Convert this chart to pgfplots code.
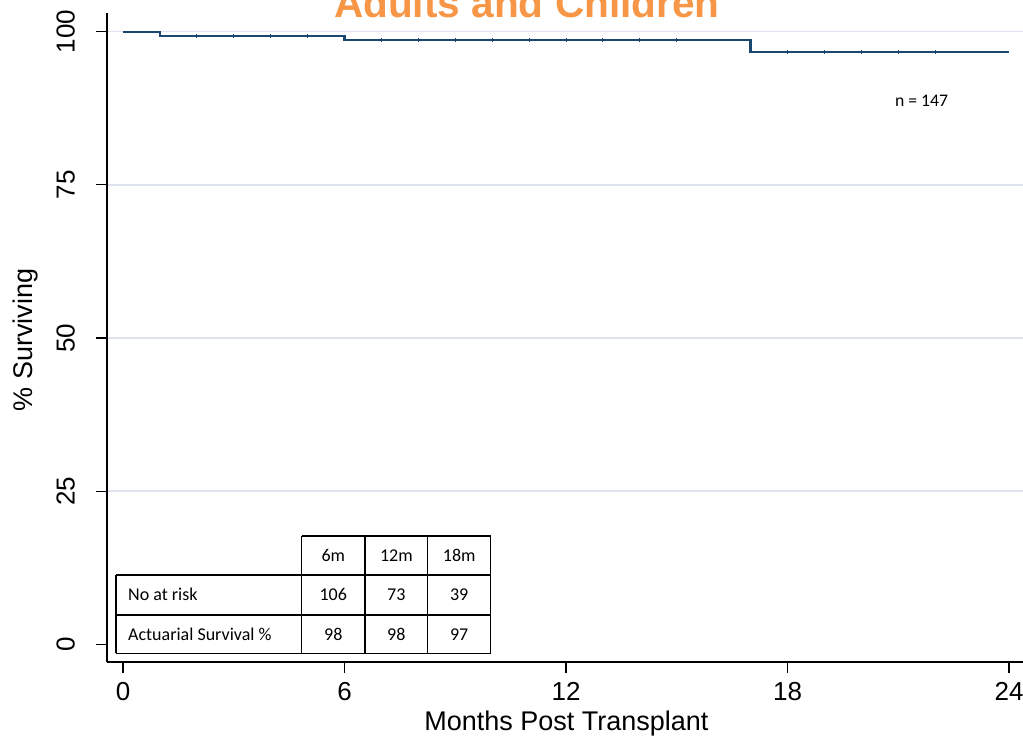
\documentclass[border=0pt]{standalone}
\usepackage{fontspec}
\setmainfont{Liberation Sans}
\newfontfamily\calfont{Carlito}
\usepackage{pgfplots}
\pgfplotsset{compat=1.18}
\definecolor{navy}{HTML}{1A476F}
\definecolor{gridc}{RGB}{222,225,238}
\definecolor{ttl}{HTML}{F79646}
\begin{document}
\begin{tikzpicture}
\begin{axis}[
  x=36.92bp, y=6.126bp,
  xmin=-0.4334, xmax=24.377, ymin=-2.889, ymax=103.05,
  axis x line*=bottom, axis y line*=left,
  axis line style={black, line width=1.2bp},
  xtick={0,6,12,18,24},
  ytick={25,50,75,100},
  extra y ticks={0},
  extra y tick style={grid=none},
  ymajorgrids,
  grid style={gridc, line width=1.5bp},
  tick align=outside,
  major tick length=11bp,
  tick style={black, line width=1.2bp},
  /pgf/number format/assume math mode=true,
  tick label style={font=\fontsize{26bp}{30bp}\selectfont},
  xticklabel style={anchor=north, inner sep=0pt, yshift=-9bp},
  yticklabel style={rotate=90, anchor=south, inner sep=0pt},
  yticklabel shift=21bp,
  clip=false,
]
\addplot[const plot, navy, line width=2.3bp] coordinates {
  (0,100) (1,99.32) (6,98.6) (17,96.7) (24,96.7)
};
\addplot[only marks, mark=|, mark size=2.2bp, navy, mark options={line width=1bp}] coordinates {
  (2,99.32) (3,99.32) (4,99.32) (5,99.32)
  (7,98.6) (8,98.6) (9,98.6) (10,98.6) (11,98.6) (12,98.6) (13,98.6) (14,98.6) (15,98.6)
  (18,96.7) (19,96.7) (20,96.7) (21,96.7) (22,96.7)
};
% title
\node[anchor=base, text=ttl, font=\bfseries\fontsize{40.6bp}{44bp}\selectfont] at (axis cs:10.94,102.24) {Adults and Children};
% axis labels
\node[anchor=base, rotate=90, font=\fontsize{27bp}{30bp}\selectfont] at (axis cs:-2.438,49.67) {\% Surviving};
\node[anchor=base, font=\fontsize{27bp}{30bp}\selectfont] at (axis cs:12.01,-14.15) {Months Post Transplant};
% n
\node[anchor=base, font=\calfont\fontsize{17.7bp}{20bp}\selectfont] at (axis cs:21.63,87.87) {n = 147};
% table
\draw[black, line width=1.2bp] (axis cs:4.840,17.68) -- (axis cs:9.959,17.68);
\draw[black, line width=1.2bp] (axis cs:-0.1896,11.32) -- (axis cs:9.959,11.32);
\draw[black, line width=1.2bp] (axis cs:-0.1896,4.782) -- (axis cs:9.959,4.782);
\draw[black, line width=1.2bp] (axis cs:-0.1896,-1.469) -- (axis cs:9.959,-1.469);
\draw[black, line width=1.2bp] (axis cs:-0.1896,11.32) -- (axis cs:-0.1896,-1.469);
\draw[black, line width=1.2bp] (axis cs:4.840,17.68) -- (axis cs:4.840,-1.469);
\draw[black, line width=1.2bp] (axis cs:6.555,17.68) -- (axis cs:6.555,-1.469);
\draw[black, line width=1.2bp] (axis cs:8.253,17.68) -- (axis cs:8.253,-1.469);
\draw[black, line width=1.2bp] (axis cs:9.959,17.68) -- (axis cs:9.959,-1.469);
\begin{scope}[every node/.style={font=\calfont\fontsize{18bp}{20bp}\selectfont}]
\node[anchor=base] at (axis cs:5.696,13.48) {6m};
\node[anchor=base] at (axis cs:7.403,13.48) {12m};
\node[anchor=base] at (axis cs:9.106,13.48) {18m};
\node[anchor=base west, inner sep=0pt] at (axis cs:0.135,7.117) {No at risk};
\node[anchor=base] at (axis cs:5.696,7.117) {106};
\node[anchor=base] at (axis cs:7.403,7.117) {73};
\node[anchor=base] at (axis cs:9.106,7.117) {39};
\node[anchor=base west, inner sep=0pt] at (axis cs:0.135,0.702) {Actuarial Survival \%};
\node[anchor=base] at (axis cs:5.696,0.702) {98};
\node[anchor=base] at (axis cs:7.403,0.702) {98};
\node[anchor=base] at (axis cs:9.106,0.702) {97};
\end{scope}
\coordinate (bbl) at (axis cs:-3.3315,-15.296);
\coordinate (btr) at (axis cs:24.377,105.175);
\end{axis}
\pgfresetboundingbox
\useasboundingbox (bbl) rectangle (btr);
\end{tikzpicture}
\end{document}
